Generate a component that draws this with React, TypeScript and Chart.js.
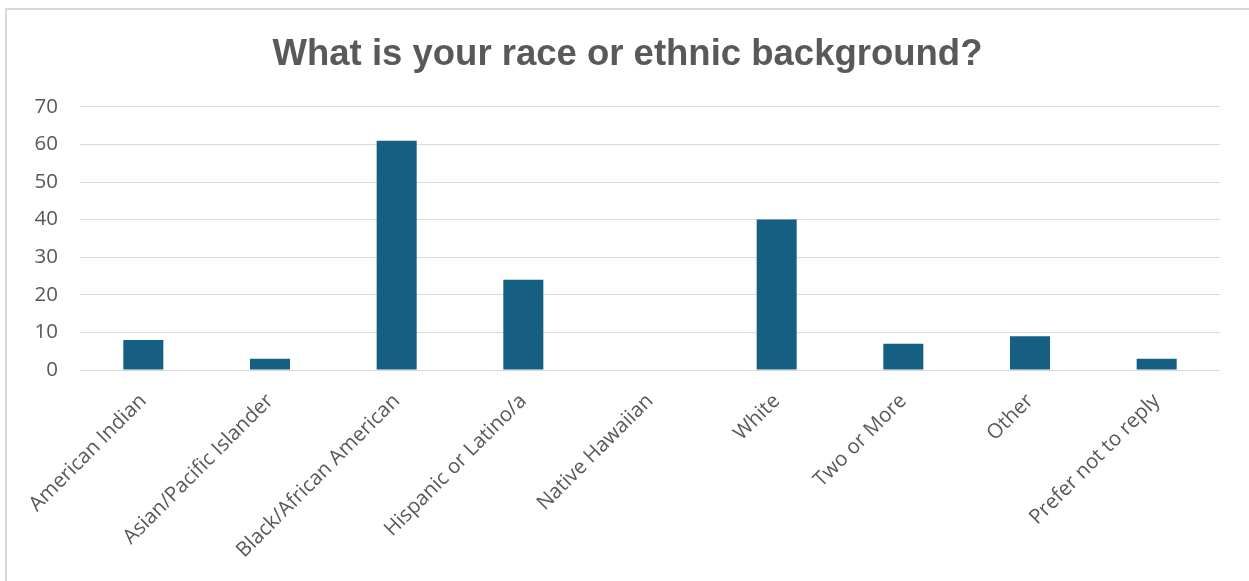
import React, { useEffect, useRef } from "react";
import { Chart, registerables } from "chart.js";

Chart.register(...registerables);

const categories = [
  "American Indian",
  "Asian/Pacific Islander",
  "Black/African American",
  "Hispanic or Latino/a",
  "Native Hawaiian",
  "White",
  "Two or More",
  "Other",
  "Prefer not to reply",
];
const counts = [8, 3, 61, 24, 0, 40, 7, 9, 3];
const yTicks = [0, 10, 20, 30, 40, 50, 60, 70];
const titleText = "What is your race or ethnic background?";

export default function App() {
  const ref = useRef<HTMLCanvasElement | null>(null);

  useEffect(() => {
    if (!ref.current) return;
    const chart = new Chart(ref.current, {
      type: "bar",
      data: {
        labels: categories,
        datasets: [
          {
            data: counts,
            backgroundColor: "#156082",
            categoryPercentage: 1,
            barPercentage: 0.316,
          },
        ],
      },
      options: {
        animation: false,
        responsive: false,
        layout: { padding: { left: 35, right: 29, top: 0, bottom: 0 } },
        plugins: {
          legend: { display: false },
          tooltip: { enabled: false },
          title: {
            display: true,
            text: titleText,
            color: "#595959",
            font: { family: "'Liberation Sans', Arial, sans-serif", size: 36.5, weight: "bold", lineHeight: 1.2 },
            padding: { top: 33, bottom: 30 },
          },
        },
        scales: {
          x: {
            grid: { display: false, drawTicks: false },
            border: { display: false },
            ticks: {
              color: "#595959",
              font: { family: "'Open Sans', sans-serif", size: 20.5 },
              minRotation: 45,
              maxRotation: 45,
              padding: 19,
              autoSkip: false,
            },
            afterFit: (s: any) => {
              s.height = 211;
            },
          },
          y: {
            min: 0,
            max: 70,
            afterBuildTicks: (s: any) => {
              s.ticks = yTicks.map((v) => ({ value: v }));
            },
            grid: { color: "#d9d9d9", lineWidth: 1, drawTicks: false },
            border: { display: false },
            ticks: {
              color: "#595959",
              font: { family: "'Open Sans', sans-serif", size: 20.5 },
              padding: 22,
            },
            afterFit: (s: any) => {
              s.width = 45;
            },
          },
        },
      },
    });
    return () => chart.destroy();
  }, []);

  return (
    <div style={{ position: "fixed", left: 0, top: 0, width: 1249, height: 581, background: "#fff", overflow: "hidden" }}>
      <div
        style={{
          position: "absolute",
          left: 5,
          top: 8,
          width: 1300,
          height: 700,
          border: "2px solid #d9d9d9",
          boxSizing: "border-box",
        }}
      />
      <canvas ref={ref} width={1249} height={581} style={{ position: "absolute", left: 0, top: 0 }} />
    </div>
  );
}
